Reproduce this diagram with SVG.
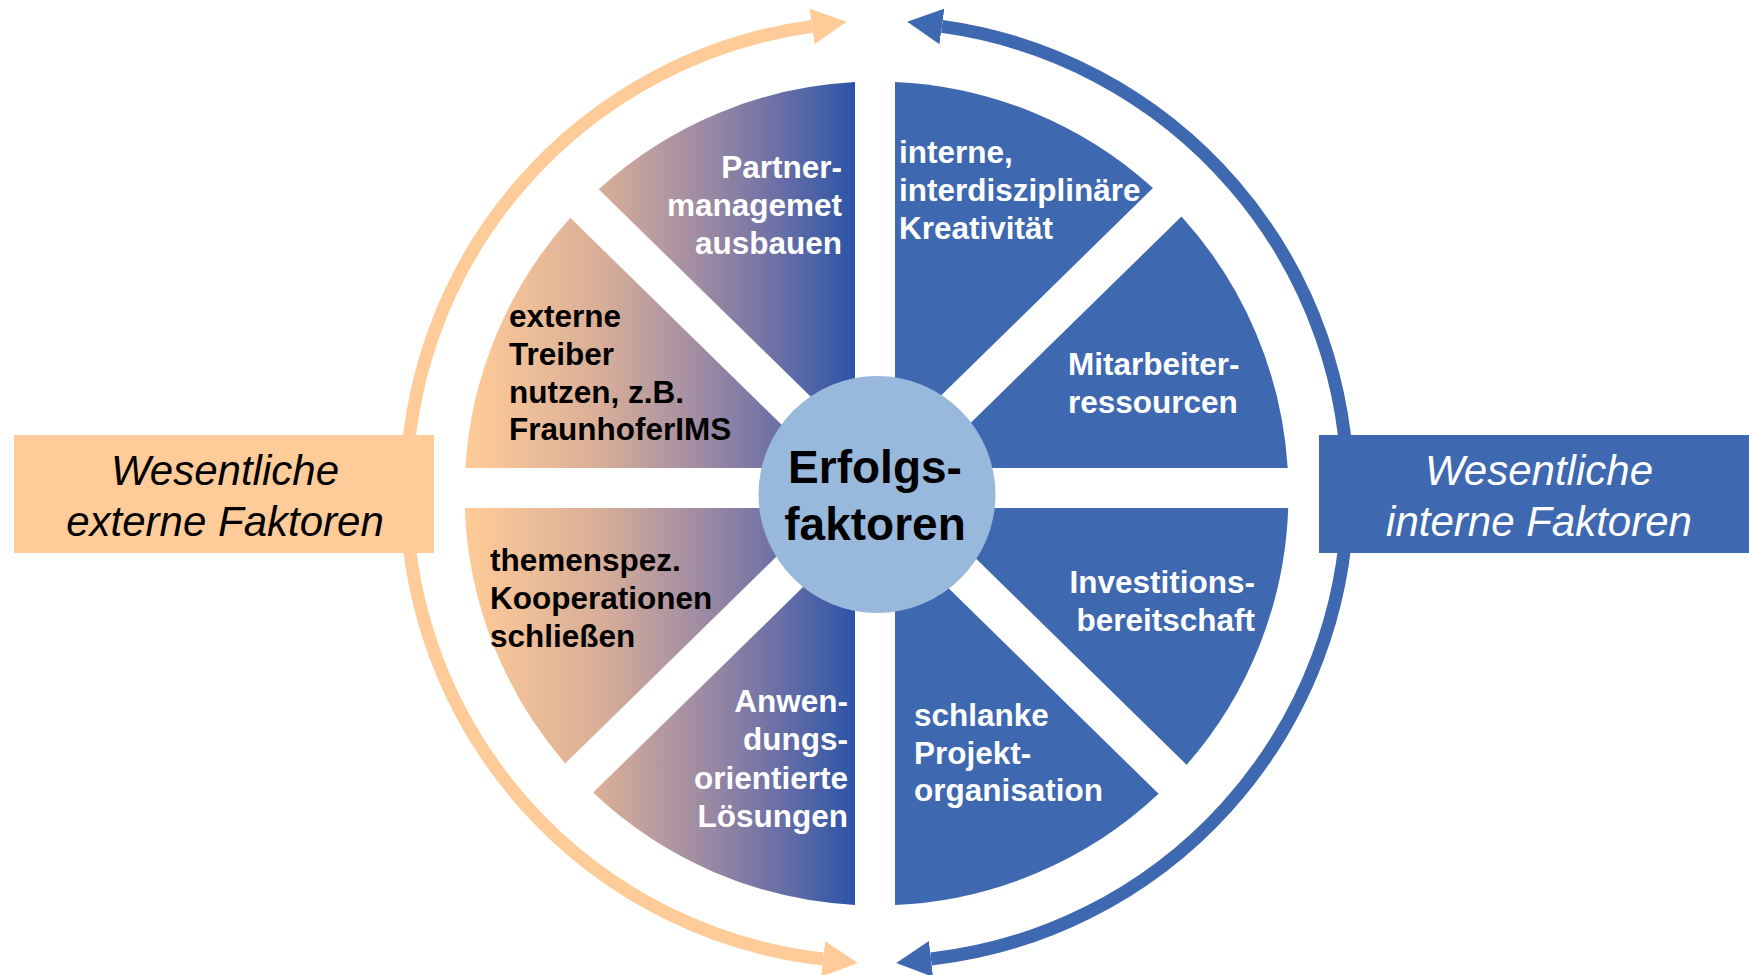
<svg xmlns="http://www.w3.org/2000/svg" width="1749" height="975" viewBox="0 0 1749 975">
<style>
.bg{fill:#ffffff}
.segB{fill:#3E68B0}
.segG{fill:url(#gL)}
.lbl{font-family:"Liberation Sans",Arial,Helvetica,sans-serif;font-weight:bold;font-size:31.5px}
.w{fill:#ffffff}
.k{fill:#000000}
.side{font-family:"Liberation Sans",Arial,Helvetica,sans-serif;font-style:italic;font-size:42px;text-anchor:middle}
.arcO{fill:none;stroke:#FFCC99;stroke-width:13}
.arcB{fill:none;stroke:#3E68B0;stroke-width:13}
</style>
<defs>
<linearGradient id="gL" gradientUnits="userSpaceOnUse" x1="465" y1="0" x2="855" y2="0">
<stop offset="0" stop-color="#FFCB97"/>
<stop offset="0.35" stop-color="#D8AE98"/>
<stop offset="0.6" stop-color="#A08CA3"/>
<stop offset="0.8" stop-color="#6C70A6"/>
<stop offset="1" stop-color="#2B54A7"/>
</linearGradient>
<marker id="mO" markerUnits="userSpaceOnUse" viewBox="0 0 35 36" refX="0" refY="18" markerWidth="35" markerHeight="36" orient="auto-start-reverse">
<polygon points="0,0 35,18 0,36" fill="#FFCC99"/>
</marker>
<marker id="mB" markerUnits="userSpaceOnUse" viewBox="0 0 35 36" refX="0" refY="18" markerWidth="35" markerHeight="36" orient="auto-start-reverse">
<polygon points="0,0 35,18 0,36" fill="#3E68B0"/>
</marker>
</defs>
<rect class="bg" x="0" y="0" width="1749" height="975"/>
<g id="connectors">
<path class="arcO" d="M 812.1,26.4 A 470 470 0 0 0 823,959" marker-start="url(#mO)" marker-end="url(#mO)"/>
<path class="arcB" d="M 941.9,26.4 A 470 470 0 0 1 931,959" marker-start="url(#mB)" marker-end="url(#mB)"/>
</g>
<g id="box-extern">
<rect x="14" y="435" width="420" height="118" fill="#FFCC99"/>
<text class="side k" x="225" y="485">Wesentliche</text>
<text class="side k" x="225" y="536">externe Faktoren</text>
</g>
<g id="box-intern">
<rect x="1319" y="435" width="430" height="118" fill="#3E68B0"/>
<text class="side w" x="1539" y="485">Wesentliche</text>
<text class="side w" x="1539" y="536">interne Faktoren</text>
</g>
<g id="seg-interne">
<path class="segB" d="M 895,440.6 L 895,81.92 A 412 412 0 0 1 1152.97,188.03 Z"/>
<text class="lbl w" x="899" y="163">interne,</text>
<text class="lbl w" x="899" y="201">interdisziplinäre</text>
<text class="lbl w" x="899" y="239">Kreativität</text>
</g>
<g id="seg-mitarbeiter">
<path class="segB" d="M 924.6,468 L 1181.49,216.51 A 412 412 0 0 1 1287.71,468 Z"/>
<text class="lbl w" x="1068" y="375">Mitarbeiter-</text>
<text class="lbl w" x="1068" y="413">ressourcen</text>
</g>
<g id="seg-investitions">
<path class="segB" d="M 924.3,508 L 1288.24,508 A 412 412 0 0 1 1186.6,764.8 Z"/>
<text class="lbl w" x="1255" y="593" text-anchor="end">Investitions-</text>
<text class="lbl w" x="1255" y="631" text-anchor="end">bereitschaft</text>
</g>
<g id="seg-schlanke">
<path class="segB" d="M 895,535.7 L 1158.6,793.8 A 412 412 0 0 1 895,905.08 Z"/>
<text class="lbl w" x="914" y="726">schlanke</text>
<text class="lbl w" x="914" y="764">Projekt-</text>
<text class="lbl w" x="914" y="801">organisation</text>
</g>
<g id="seg-anwendung">
<path class="segG" d="M 855,536.1 L 855,904.94 A 412 412 0 0 1 593.1,792.6 Z"/>
<text class="lbl w" x="848" y="712" text-anchor="end">Anwen-</text>
<text class="lbl w" x="848" y="750" text-anchor="end">dungs-</text>
<text class="lbl w" x="848" y="789" text-anchor="end">orientierte</text>
<text class="lbl w" x="848" y="827" text-anchor="end">Lösungen</text>
</g>
<g id="seg-themenspez">
<path class="segG" d="M 826.1,508 L 565.2,763.4 A 412 412 0 0 1 464.76,508 Z"/>
<text class="lbl k" x="490" y="571">themenspez.</text>
<text class="lbl k" x="490" y="609">Kooperationen</text>
<text class="lbl k" x="490" y="647">schließen</text>
</g>
<g id="seg-externe">
<path class="segG" d="M 825.9,468 L 465.29,468 A 412 412 0 0 1 570.32,217.82 Z"/>
<text class="lbl k" x="509" y="327">externe</text>
<text class="lbl k" x="509" y="365">Treiber</text>
<text class="lbl k" x="509" y="403">nutzen, z.B.</text>
<text class="lbl k" x="509" y="440">FraunhoferIMS</text>
</g>
<g id="seg-partner">
<path class="segG" d="M 855,440.1 L 598.72,189.22 A 412 412 0 0 1 855,82.06 Z"/>
<text class="lbl w" x="842" y="178" text-anchor="end">Partner-</text>
<text class="lbl w" x="842" y="216" text-anchor="end">managemet</text>
<text class="lbl w" x="842" y="254" text-anchor="end">ausbauen</text>
</g>
<g id="center">
<circle cx="877" cy="494.5" r="118.5" fill="#98B8DC"/>
<text class="lbl k" x="875" y="483" text-anchor="middle" style="font-size:46px">Erfolgs-</text>
<text class="lbl k" x="875" y="540" text-anchor="middle" style="font-size:46px">faktoren</text>
</g>
</svg>
